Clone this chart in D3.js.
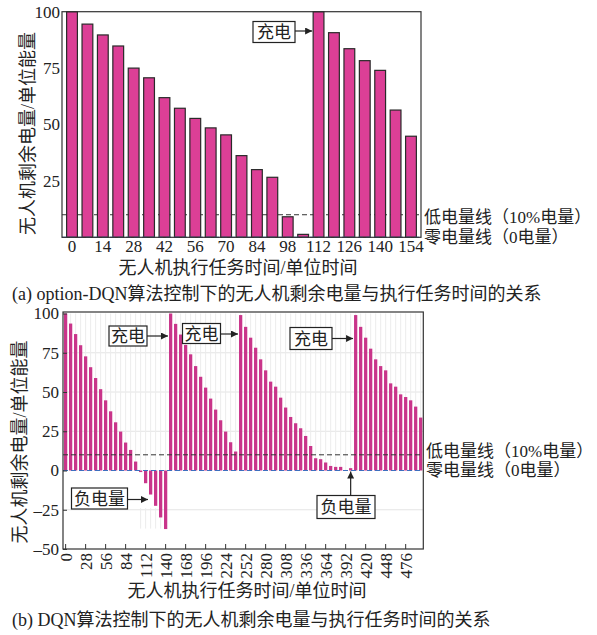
<!DOCTYPE html>
<html><head><meta charset="utf-8">
<script src="https://cdn.jsdelivr.net/npm/d3@7"></script>
<style>body{margin:0;background:#fff;} text{fill:#222;}</style>
</head><body>
<script>
// ---------- DATA ----------
const topTimes = [0,7,14,21,28,35,42,49,56,63,70,77,84,91,98,105,112,119,126,133,140,147,154];
const topValues = [100,94.5,89.7,84.8,75,70.7,61.9,57.2,52.7,48.5,45.4,36.2,30,26.6,9.1,1.3,100,90.7,83.6,78.3,74,56.4,44.8];
const topXTicks = [0,14,28,42,56,70,84,98,112,126,140,154];
const topYTicks = [25,50,75,100];

const botTimes = [0,7,14,21,28,35,42,49,56,63,70,77,84,91,98,105,112,119,126,133,140,
  147,154,161,168,175,182,189,196,203,210,217,224,231,238,
  245,252,259,266,273,280,287,294,301,308,315,322,329,336,343,350,357,364,371,378,385,392,399,
  406,413,420,427,434,441,448,455,462,469,476,483,490,497];
const botValues = [100,93.6,86.9,79.8,72.7,65.8,58.9,51.8,44.7,37.7,30.7,24.8,17.8,13.1,5.7,-1,-8.1,-15.3,-22.5,-29.9,-37.3,
  100,93.4,86.6,80,74,66.5,59.7,52.8,45.8,38.8,32,24.8,18,12.1,
  99,91.5,84.6,78.2,70.8,63.8,56.6,53.4,46.4,40.1,34.1,30.1,26.9,22,15.6,7.8,7.2,5.1,2.9,2.3,2.3,0,1.5,
  99,91.5,84.6,77.6,70.8,66.5,63.8,55.5,53.4,48.5,46.8,44.7,40.7,33.7];
const botXTicks = [0,28,56,84,112,140,168,196,224,252,280,308,336,364,392,420,448,476];
const botYTicks = [100,75,50,25,0,-25,-50];
const botGrid = [75,50,25,-25];

const lowLevel = 10, zeroLevel = 0;
const yTitle = "无人机剩余电量/单位能量";
const xTitle = "无人机执行任务时间/单位时间";
const captionA = "(a) option-DQN算法控制下的无人机剩余电量与执行任务时间的关系";
const captionB = "(b) DQN算法控制下的无人机剩余电量与执行任务时间的关系";
const lowLabel = "低电量线（10%电量）";
const zeroLabel = "零电量线（0电量）";
const chargeLabel = "充电", negLabel = "负电量";

// ---------- SETUP ----------
const FONT = "'Liberation Serif','Noto Sans CJK SC',serif";
const svg = d3.select("body").append("svg").attr("width",597).attr("height",635)
  .style("font-family", FONT);
const defs = svg.append("defs");
defs.append("marker").attr("id","arr").attr("viewBox","0 0 10 10").attr("refX",10).attr("refY",5)
  .attr("markerWidth",10).attr("markerHeight",7).attr("markerUnits","userSpaceOnUse").attr("orient","auto")
  .append("path").attr("d","M0,0L10,5L0,10Z").attr("fill","#222");

function box(g, x, y, w, h, label){
  g.append("rect").attr("x",x).attr("y",y).attr("width",w).attr("height",h)
    .attr("fill","#fff").attr("stroke","#222").attr("stroke-width",1.2);
  g.append("text").attr("x",x+w/2).attr("y",y+h/2).attr("dy","0.36em").attr("text-anchor","middle")
    .style("font-size","17px").text(label);
}
function arrow(g,x1,y1,x2,y2){
  g.append("line").attr("x1",x1).attr("y1",y1).attr("x2",x2).attr("y2",y2)
    .attr("stroke","#222").attr("stroke-width",1.2).attr("marker-end","url(#arr)");
}

// ---------- TOP CHART ----------
{
  const L=62,R=421,T=11.7,B=237.3;
  const x = d3.scaleBand().domain(topTimes).range([L,R]).paddingInner(0.3).paddingOuter(0.3);
  const y = d3.scaleLinear().domain([0,100]).range([B,T]);
  const g = svg.append("g");
  g.append("line").attr("x1",L).attr("x2",R).attr("y1",y(lowLevel)).attr("y2",y(lowLevel))
    .attr("stroke","#333").attr("stroke-dasharray","5,3").attr("stroke-width",1);
  g.selectAll("rect.bar").data(topValues).join("rect").attr("class","bar")
    .attr("x",(d,i)=>x(topTimes[i])).attr("width",x.bandwidth())
    .attr("y",d=>y(d)).attr("height",d=>y(0)-y(d))
    .attr("fill","#dc3f96").attr("stroke","#2a2a2a").attr("stroke-width",1.2);
  g.append("line").attr("x1",L).attr("x2",R).attr("y1",y(zeroLevel)).attr("y2",y(zeroLevel))
    .attr("stroke","#3d6fbf").attr("stroke-dasharray","5,3").attr("stroke-width",1.2);
  g.append("rect").attr("x",L).attr("y",T).attr("width",R-L).attr("height",B-T)
    .attr("fill","none").attr("stroke","#333").attr("stroke-width",1.2);
  const xa = g.append("g").attr("transform",`translate(0,${B})`)
    .call(d3.axisBottom(x).tickValues(topXTicks).tickSize(0).tickPadding(3));
  xa.select(".domain").remove();
  xa.selectAll("text").style("font-size","17px").style("font-family",FONT).attr("fill","#222");
  const ya = g.append("g").attr("transform",`translate(${L},0)`)
    .call(d3.axisLeft(y).tickValues(topYTicks).tickSize(0).tickPadding(2));
  ya.select(".domain").remove();
  ya.selectAll("text").style("font-size","17px").style("font-family",FONT).attr("fill","#222");
  g.append("text").attr("transform",`translate(28,${(T+B)/2+9}) rotate(-90)`).attr("text-anchor","middle")
    .attr("dy","0.35em").style("font-size","18px").text(yTitle);
  g.append("text").attr("x",238).attr("y",268).attr("text-anchor","middle").attr("dy","0.35em")
    .style("font-size","18px").text(xTitle);
  g.append("text").attr("x",12).attr("y",294).attr("dy","0.35em").style("font-size","18px").text(captionA);
  g.append("text").attr("x",424).attr("y",y(lowLevel)+2.5).attr("dy","0.35em").style("font-size","17px").text(lowLabel);
  g.append("text").attr("x",424).attr("y",y(zeroLevel)-0.5).attr("dy","0.35em").style("font-size","17px").text(zeroLabel);
  const tx = x(topTimes[16]);
  box(g, 253, 21.5, 42, 21, chargeLabel);
  arrow(g, 295, 31, tx-1, 31);
}

// ---------- BOTTOM CHART ----------
{
  const L=63,R=423.3,T=312,B=549;
  const x = d3.scaleBand().domain(botTimes).range([L,R]).paddingInner(0.35).paddingOuter(0.2);
  const y = d3.scaleLinear().domain([-50,100]).range([B,313.5]);
  const g = svg.append("g");
  g.selectAll("line.hg").data(botGrid).join("line").attr("class","hg")
    .attr("x1",L).attr("x2",R).attr("y1",d=>y(d)).attr("y2",d=>y(d))
    .attr("stroke","#e4e4e4").attr("stroke-width",1);
  g.selectAll("line.vg").data(botTimes).join("line").attr("class","vg")
    .attr("x1",d=>x(d)+x.bandwidth()/2).attr("x2",d=>x(d)+x.bandwidth()/2)
    .attr("y1",y(100)).attr("y2",y(0)).attr("stroke","#ececec").attr("stroke-width",1);
  g.selectAll("line.vg2").data(botTimes.filter((d,i)=>botValues[i]<0)).join("line").attr("class","vg2")
    .attr("x1",d=>x(d)+x.bandwidth()/2).attr("x2",d=>x(d)+x.bandwidth()/2)
    .attr("y1",y(-24)).attr("y2",y(-37)).attr("stroke","#ececec").attr("stroke-width",1);
  g.selectAll("rect.bar").data(botValues).join("rect").attr("class","bar")
    .attr("x",(d,i)=>x(botTimes[i])).attr("width",x.bandwidth())
    .attr("y",d=>y(Math.max(d,0))).attr("height",d=>Math.abs(y(d)-y(0)))
    .attr("fill","#c9358a");
  g.append("line").attr("x1",L).attr("x2",R).attr("y1",y(lowLevel)).attr("y2",y(lowLevel))
    .attr("stroke","#333").attr("stroke-dasharray","5,3").attr("stroke-width",1);
  g.append("line").attr("x1",L).attr("x2",R).attr("y1",y(zeroLevel)).attr("y2",y(zeroLevel))
    .attr("stroke","#3d6fbf").attr("stroke-dasharray","5,3").attr("stroke-width",1.2);
  g.append("rect").attr("x",L).attr("y",T).attr("width",R-L).attr("height",B-T)
    .attr("fill","none").attr("stroke","#333").attr("stroke-width",1.2);
  const xa = g.append("g").attr("transform",`translate(0,${B})`)
    .call(d3.axisBottom(x).tickValues(botXTicks).tickSizeInner(-5).tickSizeOuter(0).tickPadding(4));
  xa.select(".domain").remove();
  xa.selectAll("line").attr("stroke","#333");
  xa.selectAll("text").attr("transform","rotate(-90)").attr("x",-4).attr("y",0).attr("dy","0.35em")
    .attr("text-anchor","end").style("font-size","17px").style("font-family",FONT).attr("fill","#222");
  const ya = g.append("g").attr("transform",`translate(${L},0)`)
    .call(d3.axisLeft(y).tickValues(botYTicks).tickSizeInner(-4).tickSizeOuter(0).tickPadding(4)
      .tickFormat(d=>d<0?"–"+Math.abs(d):String(d)));
  ya.select(".domain").remove();
  ya.selectAll("line").attr("stroke","#333");
  ya.selectAll("text").style("font-size","17px").style("font-family",FONT).attr("fill","#222");
  g.append("text").attr("transform",`translate(20,442) rotate(-90)`).attr("text-anchor","middle")
    .attr("dy","0.35em").style("font-size","18px").text(yTitle);
  g.append("text").attr("x",247).attr("y",591).attr("text-anchor","middle").attr("dy","0.35em")
    .style("font-size","18px").text(xTitle);
  g.append("text").attr("x",12).attr("y",620).attr("dy","0.35em").style("font-size","18px").text(captionB);
  g.append("text").attr("x",426).attr("y",y(lowLevel)-4).attr("dy","0.35em").style("font-size","17px").text(lowLabel);
  g.append("text").attr("x",426).attr("y",y(zeroLevel)-0.5).attr("dy","0.35em").style("font-size","17px").text(zeroLabel);
  box(g, 109, 326, 38, 20, chargeLabel);
  arrow(g, 147, 336, x(botTimes[21])-1, 336);
  box(g, 182.5, 323.5, 38, 20, chargeLabel);
  arrow(g, 220.5, 334, x(botTimes[35])-1, 334);
  box(g, 290, 327.5, 42, 22, chargeLabel);
  arrow(g, 332, 338.5, x(botTimes[58])-1, 338.5);
  box(g, 71.5, 488, 56, 21, negLabel);
  arrow(g, 127.5, 499.5, x(botTimes[17])-1, 499.5);
  box(g, 317, 495.5, 58, 23, negLabel);
  const nx = x(botTimes[57])+x.bandwidth()/2;
  arrow(g, nx, 495.5, nx, y(0)+1);
}
</script>
</body></html>
